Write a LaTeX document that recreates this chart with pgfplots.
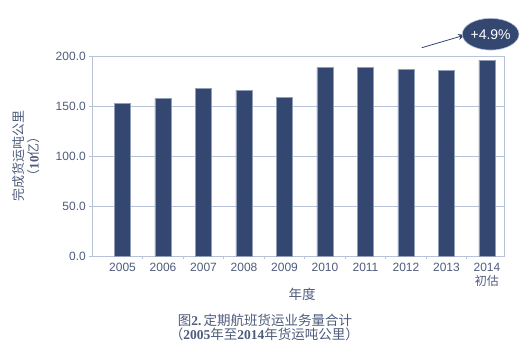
\documentclass[border=0pt]{standalone}
\usepackage{fontspec}
\setmainfont{Liberation Sans}
\newfontfamily\cjk{Noto Sans CJK SC}
\newfontfamily\serif{Liberation Serif}
\usepackage{pgfplots}
\pgfplotsset{compat=1.18}
\usetikzlibrary{shapes.geometric,arrows.meta}
\definecolor{barc}{RGB}{52,71,112}
\definecolor{txt}{RGB}{78,92,124}
\definecolor{gridc}{RGB}{185,195,215}
\begin{document}
\begin{tikzpicture}
\useasboundingbox (-92.3pt,-98pt) rectangle (438.7pt,256pt);
\begin{axis}[
  at={(0,0)}, anchor=south west,
  scale only axis, width=411.7pt, height=200pt,
  xmin=-0.746, xmax=9.42, ymin=0, ymax=200,
  ytick={0,50,...,200},
  xtick={0,...,9},
  xticklabels={2005,2006,2007,2008,2009,2010,2011,2012,2013,{2014\\\cjk 初估}},
  minor xtick={0.5,1.5,...,8.5},
  xtick pos=bottom, ytick pos=left,
  tick align=outside,
  major tick length=3pt, minor tick length=3pt,
  every major x tick/.append style={draw=none},
  tick style={gridc, line width=0.6pt},
  axis line style={gridc, line width=0.7pt},
  ymajorgrids, grid style={gridc, line width=0.7pt},
  /pgf/number format/assume math mode=true,
  yticklabel style={/pgf/number format/.cd, fixed, fixed zerofill, precision=1},
  ticklabel style={text=txt, font=\fontsize{12}{14}\selectfont},
  x tick label style={align=center, yshift=-1pt},
  xlabel={\cjk 年度},
  xlabel style={at={(axis description cs:0.5,0)}, anchor=center, yshift=-38pt, xshift=4pt, text=txt, font=\fontsize{13.5}{15}\selectfont},
  ylabel={{\cjk 完成货运吨公里}\\{\cjk （}{\serif\bfseries 10}{\cjk 亿）}},
  ylabel style={at={(axis description cs:0,0.5)}, anchor=center, yshift=66pt, align=center, text=txt, font=\fontsize{13}{15}\selectfont},
  clip=false,
]
\addplot[ybar, bar width=16.3pt, fill=barc, draw=gridc!70!barc, line width=0.5pt] coordinates {
  (0,152.7) (1,157.7) (2,167.7) (3,166.0) (4,158.3)
  (5,188.7) (6,188.6) (7,186.3) (8,185.3) (9,196.0)
};
\draw[barc, line width=0.8pt, -{Stealth[length=7pt,width=6pt]}] (axis cs:7.39,208.3) -- (axis cs:8.46,221);
\node[ellipse, fill=barc, draw=gridc, line width=0.6pt, minimum width=55pt, minimum height=31.7pt, inner sep=0pt, text=white, font=\fontsize{14}{14}\selectfont] at (axis cs:9.09,221.8) {+4.9\%};
\end{axis}
\node[text=txt, font=\fontsize{13.5}{15}\selectfont, anchor=center] at (172.7pt,-64pt) {{\cjk 图}{\serif\bfseries 2.}\,{\cjk 定期航班货运业务量合计}};
\node[text=txt, font=\fontsize{13.5}{15}\selectfont, anchor=center] at (172pt,-78pt) {{\cjk （}{\serif\bfseries 2005}{\cjk 年至}{\serif\bfseries 2014}{\cjk 年货运吨公里）}};
\end{tikzpicture}
\end{document}
